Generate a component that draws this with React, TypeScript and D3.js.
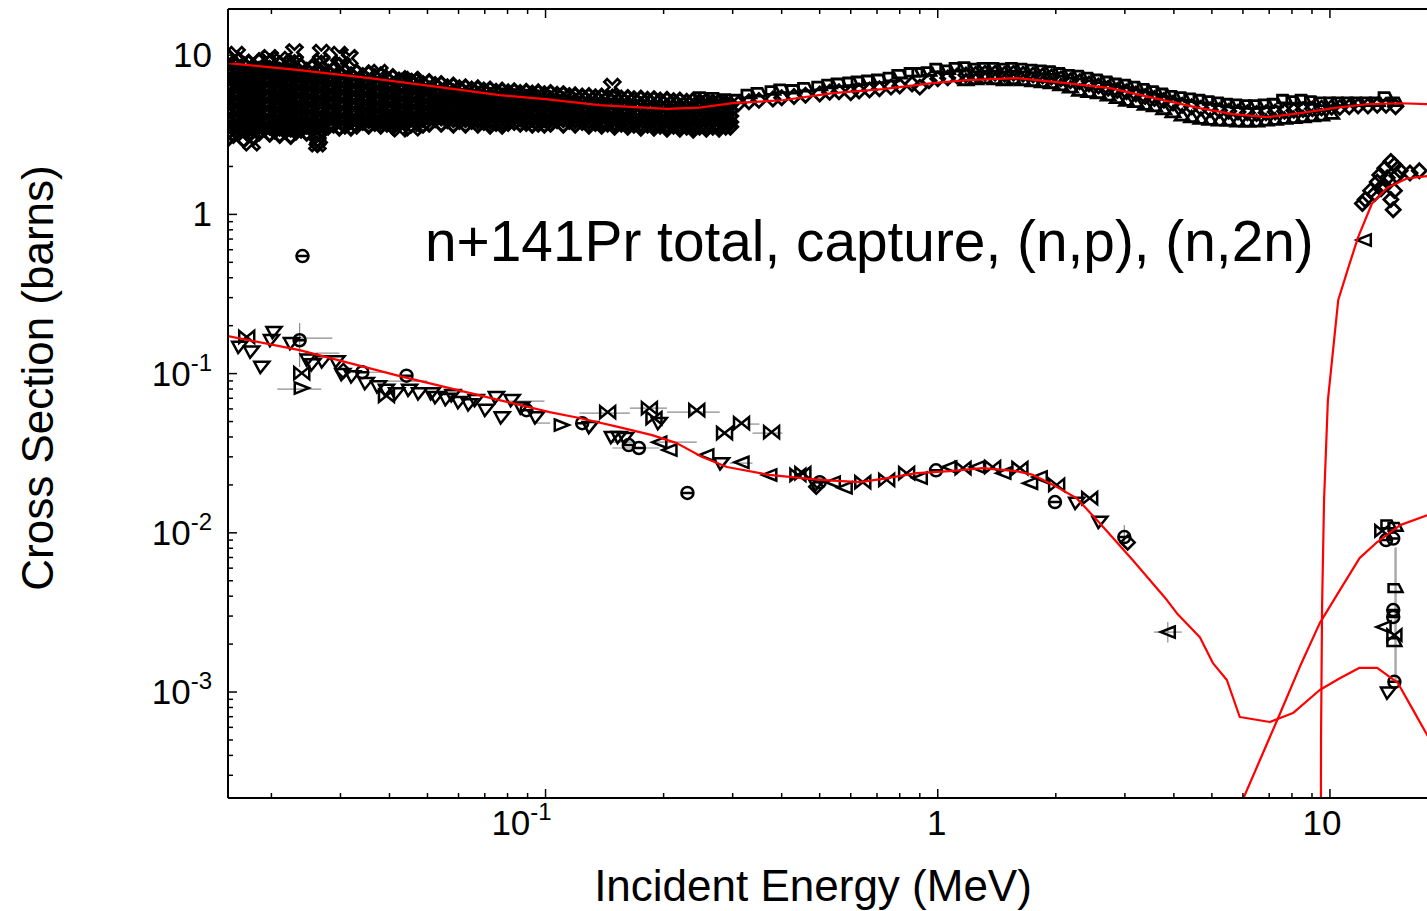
import React, { useEffect, useRef } from "react";
import * as d3 from "d3";

const WIDTH = 1427;
const HEIGHT = 911;
const FONT = "'Liberation Sans', Arial, Helvetica, sans-serif";

// axis ticks
const xMajorTicks = [0.1, 1, 10];
const xTickLabels = [["10", "-1"], ["1", ""], ["10", ""]];
const yMajorTicks = [10, 1, 0.1, 0.01, 0.001];
const yTickLabels = [["10", ""], ["1", ""], ["10", "-1"], ["10", "-2"], ["10", "-3"]];

// evaluated curves (MeV, barns)
const totalCurveE = [0.0155, 0.0236, 0.0356, 0.0537, 0.0763, 0.1, 0.137, 0.204, 0.247, 0.3, 0.402, 0.54, 0.724, 0.971, 1.186, 1.59, 2.13, 2.75, 3.47, 4.66, 5.66, 6.91, 8.38, 10.2, 12.4, 15.1, 17.7, 20];
const totalCurveXS = [8.91, 8.05, 7.17, 6.3, 5.61, 5.29, 4.85, 4.6, 4.68, 5.0, 5.21, 5.77, 6.12, 6.67, 6.97, 7.17, 6.67, 6.21, 5.45, 4.65, 4.26, 4.08, 4.32, 4.65, 4.92, 4.99, 4.92, 4.9];

const captureCurveE = [0.0155, 0.0236, 0.0425, 0.0763, 0.1024, 0.122, 0.154, 0.187, 0.216, 0.251, 0.29, 0.372, 0.5, 0.633, 0.724, 0.884, 1.073, 1.3, 1.59, 1.75, 1.97, 2.26, 2.59, 3.14, 3.84, 4.07, 4.66, 5.03, 5.46, 5.89, 7.03, 8.05, 9.42, 10.6, 11.9, 13.2, 14.9, 16.3, 17.7, 20];
const captureCurveXS = [0.172, 0.1405, 0.0964, 0.0682, 0.0573, 0.0526, 0.0461, 0.0411, 0.0366, 0.0299, 0.0259, 0.0231, 0.0215, 0.0208, 0.0218, 0.0237, 0.0244, 0.0255, 0.0244, 0.0231, 0.02, 0.0165, 0.0115, 0.00674, 0.00378, 0.00313, 0.00221, 0.00152, 0.00119, 0.000697, 0.000648, 0.000738, 0.00103, 0.00122, 0.00142, 0.00142, 0.00114, 0.00077, 0.000537, 0.00033];

const npCurveE = [5.83, 6.63, 7.47, 8.38, 9.42, 10.6, 11.9, 13.2, 15.1, 17.7, 20];
const npCurveXS = [0.00018, 0.000374, 0.000738, 0.00144, 0.00271, 0.00437, 0.00694, 0.00875, 0.01118, 0.0129, 0.0135];

const n2nCurveE = [9.47, 9.49, 9.55, 9.66, 9.88, 10.5, 11.1, 11.8, 12.8, 14.0, 15.7, 17.7, 20];
const n2nCurveXS = [0.00001, 0.0005, 0.0035, 0.016, 0.068, 0.29, 0.45, 0.72, 1.17, 1.47, 1.68, 1.74, 1.75];

// measured total cross section, dense region: [E, xs1, xs2, ...]
const totalLowRows = [
  [0.0156, 9.6, 8.4, 7.5, 6.7, 6.0, 5.3, 4.7, 4.2, 3.75, 3.35, 3.05],
  [0.016, 8.9, 7.9, 7.0, 6.3, 5.6, 5.0, 4.45, 3.95, 3.5, 3.15],
  [0.0165, 9.3, 8.2, 7.3, 6.5, 5.8, 5.15, 4.6, 4.1, 3.65, 3.25],
  [0.017, 8.7, 7.7, 6.9, 6.1, 5.45, 4.85, 4.35, 3.85, 3.45, 2.95],
  [0.0175, 9.0, 8.0, 7.2, 6.4, 5.7, 5.1, 4.55, 4.05, 3.6, 3.2],
  [0.018, 8.5, 7.6, 6.8, 6.0, 5.35, 4.8, 4.25, 3.8, 3.4, 3.05],
  [0.0186, 9.2, 8.1, 7.25, 6.45, 5.75, 5.1, 4.55, 4.05, 3.6, 3.25],
  [0.0192, 8.6, 7.7, 6.85, 6.1, 5.45, 4.85, 4.3, 3.85, 3.45],
  [0.0198, 9.0, 7.95, 7.1, 6.3, 5.6, 5.0, 4.45, 3.95, 3.55, 3.2],
  [0.0204, 8.4, 7.5, 6.7, 5.95, 5.3, 4.75, 4.2, 3.75, 3.4],
  [0.021, 8.8, 7.85, 7.0, 6.2, 5.5, 4.9, 4.35, 3.9, 3.5, 3.15],
  [0.0217, 8.3, 7.4, 6.6, 5.85, 5.2, 4.65, 4.15, 3.7, 3.35],
  [0.0224, 8.7, 7.7, 6.9, 6.1, 5.45, 4.85, 4.3, 3.85, 3.45, 3.1],
  [0.0231, 8.2, 7.3, 6.5, 5.8, 5.15, 4.6, 4.1, 3.65, 3.3],
  [0.0238, 8.5, 7.6, 6.75, 6.0, 5.35, 4.75, 4.25, 3.8, 3.4],
  [0.0246, 8.0, 7.15, 6.4, 5.7, 5.1, 4.55, 4.05, 3.6, 3.25],
  [0.0254, 8.4, 7.45, 6.65, 5.9, 5.25, 4.7, 4.2, 3.75, 3.4],
  [0.0262, 7.9, 7.05, 6.3, 5.6, 5.0, 4.5, 4.0, 3.6, 3.2, 2.95, 2.75],
  [0.027, 8.2, 7.3, 6.5, 5.8, 5.15, 4.6, 4.1, 3.7, 3.35],
  [0.0279, 7.8, 6.95, 6.2, 5.55, 4.95, 4.4, 3.95, 3.55],
  [0.0288, 8.1, 7.2, 6.4, 5.7, 5.1, 4.55, 4.05, 3.65],
  [0.0298, 7.6, 6.8, 6.1, 5.45, 4.85, 4.35, 3.9, 3.5],
  [0.0308, 7.9, 7.0, 6.25, 5.6, 5.0, 4.45, 4.0, 3.6],
  [0.0319, 7.5, 6.7, 6.0, 5.35, 4.8, 4.3, 3.85, 3.5],
  [0.033, 7.8, 6.9, 6.15, 5.5, 4.9, 4.4, 3.95, 3.6],
  [0.0342, 7.4, 6.6, 5.9, 5.25, 4.7, 4.2, 3.8],
  [0.0354, 7.7, 6.85, 6.1, 5.45, 4.85, 4.35, 3.9, 3.6],
  [0.0367, 7.3, 6.5, 5.8, 5.2, 4.65, 4.15, 3.75],
  [0.038, 7.5, 6.7, 6.0, 5.35, 4.8, 4.3, 3.85, 3.6],
  [0.0394, 7.1, 6.35, 5.7, 5.1, 4.55, 4.1, 3.7],
  [0.0408, 7.3, 6.5, 5.85, 5.25, 4.7, 4.2, 3.8, 3.55],
  [0.0423, 6.95, 6.2, 5.55, 5.0, 4.5, 4.05, 3.7],
  [0.0438, 7.1, 6.35, 5.7, 5.1, 4.6, 4.15, 3.8],
  [0.0454, 6.8, 6.1, 5.5, 4.95, 4.45, 4.0, 3.65],
  [0.047, 6.95, 6.25, 5.6, 5.05, 4.55, 4.1, 3.75],
  [0.0487, 6.6, 5.95, 5.4, 4.85, 4.4, 3.95, 3.65],
  [0.0505, 6.8, 6.1, 5.5, 4.95, 4.5, 4.05, 3.7],
  [0.0523, 6.5, 5.85, 5.3, 4.8, 4.35, 3.95],
  [0.0542, 6.6, 5.95, 5.4, 4.9, 4.45, 4.05, 3.7],
  [0.0562, 6.3, 5.7, 5.2, 4.7, 4.3, 3.9],
  [0.0582, 6.45, 5.85, 5.3, 4.8, 4.35, 3.95, 3.65],
  [0.0603, 6.2, 5.6, 5.1, 4.65, 4.25, 3.85],
  [0.0625, 6.3, 5.7, 5.2, 4.75, 4.3, 3.95, 3.65],
  [0.0648, 6.1, 5.55, 5.05, 4.6, 4.2, 3.85],
  [0.0672, 6.2, 5.65, 5.15, 4.7, 4.3, 3.9, 3.65],
  [0.0696, 6.0, 5.45, 5.0, 4.55, 4.15, 3.8],
  [0.0722, 6.1, 5.55, 5.05, 4.6, 4.2, 3.85, 3.6],
  [0.0748, 5.9, 5.4, 4.95, 4.5, 4.1, 3.75],
  [0.0775, 6.0, 5.5, 5.0, 4.55, 4.15, 3.8, 3.6],
  [0.0803, 5.85, 5.35, 4.9, 4.45, 4.05, 3.75],
  [0.0832, 5.95, 5.45, 4.95, 4.5, 4.1, 3.8],
  [0.0862, 5.8, 5.3, 4.85, 4.4, 4.0, 3.7],
  [0.0893, 5.9, 5.4, 4.9, 4.45, 4.05, 3.75],
  [0.0925, 5.75, 5.25, 4.8, 4.35, 3.95, 3.65],
  [0.0958, 5.85, 5.35, 4.85, 4.4, 4.0, 3.7],
  [0.0993, 5.7, 5.2, 4.75, 4.3, 3.95, 3.65],
  [0.103, 5.8, 5.3, 4.8, 4.35, 3.95, 3.7],
  [0.107, 5.65, 5.15, 4.7, 4.25, 3.9],
  [0.111, 5.7, 5.2, 4.75, 4.3, 3.95, 3.65],
  [0.115, 5.55, 5.05, 4.6, 4.2, 3.85],
  [0.119, 5.6, 5.1, 4.65, 4.25, 3.9, 3.65],
  [0.124, 5.5, 5.0, 4.55, 4.15, 3.8],
  [0.129, 5.55, 5.05, 4.6, 4.2, 3.85, 3.6],
  [0.134, 5.45, 4.95, 4.5, 4.1, 3.75],
  [0.139, 5.5, 5.0, 4.55, 4.15, 3.8, 3.6],
  [0.144, 5.4, 4.9, 4.45, 4.05, 3.7],
  [0.15, 5.45, 4.95, 4.5, 4.1, 3.75, 3.55],
  [0.156, 5.35, 4.85, 4.4, 4.0, 3.7],
  [0.162, 5.4, 4.9, 4.45, 4.05, 3.75, 3.55],
  [0.168, 5.3, 4.8, 4.35, 3.95, 3.65],
  [0.175, 5.35, 4.85, 4.4, 4.0, 3.7, 3.5],
  [0.182, 5.25, 4.75, 4.3, 3.95, 3.65],
  [0.189, 5.3, 4.8, 4.35, 4.0, 3.7, 3.5],
  [0.196, 5.2, 4.7, 4.3, 3.9, 3.6],
  [0.204, 5.25, 4.75, 4.35, 3.95, 3.65, 3.45],
  [0.212, 5.15, 4.7, 4.25, 3.9, 3.6],
  [0.22, 5.2, 4.75, 4.3, 3.95, 3.65, 3.45],
  [0.229, 5.1, 4.65, 4.25, 3.85, 3.55],
  [0.238, 5.2, 4.7, 4.3, 3.9, 3.6, 3.4],
  [0.247, 5.1, 4.65, 4.25, 3.85, 3.55],
  [0.257, 5.15, 4.7, 4.3, 3.9, 3.6, 3.45],
  [0.267, 5.05, 4.6, 4.2, 3.85, 3.55],
  [0.277, 5.1, 4.65, 4.25, 3.9, 3.6, 3.45],
  [0.288, 5.0, 4.6, 4.2, 3.85, 3.55],
  [0.296, 4.9, 4.5, 4.15, 3.8, 3.55],
];

// measured total cross section above 0.25 MeV: [E, xs1, xs2, ...]
const totalHighRows = [
  [0.25, 5.5, 4.9], [0.27, 5.45, 4.8], [0.29, 5.35, 4.85], [0.31, 5.3, 4.95], [0.33, 5.7, 5.1],
  [0.35, 5.85, 5.2], [0.38, 6.0, 5.3], [0.4, 6.15, 5.4], [0.43, 6.1, 5.5], [0.46, 6.3, 5.6],
  [0.5, 6.4, 5.7], [0.53, 6.6, 5.85], [0.56, 6.7, 5.9], [0.6, 6.8, 5.8], [0.63, 6.9, 5.95],
  [0.67, 7.0, 6.05], [0.71, 7.1, 6.15], [0.76, 7.3, 6.3], [0.8, 7.6, 6.4], [0.86, 7.8, 6.6],
  [0.9, 7.8, 6.3], [0.95, 7.9, 6.9], [1.0, 8.3, 7.1], [1.06, 8.1, 7.2], [1.12, 8.4, 7.4],
  [1.18, 8.5, 7.5, 7.0], [1.25, 8.3, 7.6, 7.1], [1.32, 8.4, 7.7, 7.2], [1.4, 8.4, 7.7, 7.1],
  [1.48, 8.3, 7.6, 7.0], [1.56, 8.4, 7.7, 7.1], [1.65, 8.3, 7.6, 7.0], [1.75, 8.2, 7.5, 6.9],
  [1.85, 8.1, 7.4, 6.8], [1.95, 8.0, 7.3, 6.7], [2.06, 7.8, 7.1, 6.5], [2.18, 7.6, 6.9, 6.3],
  [2.3, 7.5, 6.8, 6.0], [2.43, 7.3, 6.6, 5.9], [2.57, 7.1, 6.4, 5.8], [2.72, 6.9, 6.2, 5.6],
  [2.87, 6.7, 6.0, 5.4], [3.03, 6.6, 5.9, 5.2], [3.2, 6.4, 5.7, 5.1], [3.38, 6.2, 5.5, 4.9],
  [3.57, 6.0, 5.35, 4.8], [3.77, 5.8, 5.2, 4.6], [3.98, 5.6, 5.0, 4.4], [4.2, 5.5, 4.85, 4.2],
  [4.44, 5.4, 4.75, 4.1], [4.69, 5.3, 4.65, 4.0], [4.95, 5.2, 4.55, 3.95], [5.23, 5.1, 4.5, 3.9],
  [5.52, 5.0, 4.45, 3.9], [5.83, 4.95, 4.4, 3.85], [6.16, 4.9, 4.35, 3.85], [6.5, 4.9, 4.3, 3.85],
  [6.87, 4.95, 4.35, 3.9], [7.25, 5.0, 4.4, 3.95], [7.66, 5.3, 4.45, 4.0], [8.09, 5.2, 4.5, 4.05],
  [8.54, 5.3, 4.55, 4.1], [9.02, 5.2, 4.6, 4.15], [9.52, 5.1, 4.65, 4.2], [10.1, 5.1, 4.7, 4.3],
  [10.6, 5.1, 4.7], [11.2, 5.1, 4.75], [11.8, 5.1, 4.8], [12.5, 5.1, 4.8], [13.2, 5.1, 4.85],
  [13.9, 5.5, 4.85], [14.7, 5.1, 4.75],
];

const totalCrosses = [
  [0.0163, 10.0], [0.0198, 9.57], [0.021, 9.3], [0.0229, 10.4], [0.0229, 9.03], [0.0268, 10.3],
  [0.0268, 9.03], [0.0298, 10.0], [0.0316, 9.57], [0.0303, 8.62], [0.0377, 7.71], [0.0442, 6.77],
  [0.0458, 6.97], [0.0178, 2.84], [0.0159, 3.29], [0.021, 3.38], [0.0225, 3.48], [0.0262, 2.8],
  [0.0264, 3.05], [0.0425, 3.48], [0.0458, 3.53], [0.148, 6.3], [0.291, 4.0],
];

// measured capture, grouped by data set symbol
const captureTriDown = [
  [0.0166, 0.147], [0.0178, 0.137], [0.0189, 0.11], [0.02, 0.162], [0.0203, 0.182], [0.0225, 0.155],
  [0.0248, 0.122], [0.0255, 0.114], [0.0271, 0.119], [0.0294, 0.119], [0.0304, 0.099], [0.0322, 0.096],
  [0.0349, 0.087], [0.0375, 0.083], [0.0393, 0.079], [0.0417, 0.075], [0.045, 0.079], [0.0477, 0.075],
  [0.0514, 0.075], [0.0527, 0.071], [0.056, 0.069], [0.058, 0.073], [0.0603, 0.066], [0.064, 0.064],
  [0.0665, 0.068], [0.0706, 0.059], [0.0749, 0.071], [0.0775, 0.053], [0.0822, 0.068], [0.087, 0.061],
  [0.0948, 0.053], [0.13, 0.0461], [0.148, 0.0399], [0.154, 0.0399], [0.16, 0.0393], [0.195, 0.0488],
  [0.281, 0.0273], [0.491, 0.02], [2.26, 0.0154], [2.59, 0.0117], [14.1, 0.00099],
];
const captureCircle = [
  [0.024, 0.547], [0.0236, 0.162], [0.0341, 0.102], [0.0442, 0.097], [0.0894, 0.0589], [0.124, 0.0488],
  [0.163, 0.0356], [0.173, 0.0341], [0.23, 0.0178], [0.5, 0.0208], [0.99, 0.0247], [1.99, 0.0156],
  [2.99, 0.0094], [14.6, 0.00116],
];
const captureBowtie = [
  [0.0173, 0.17], [0.0239, 0.1007], [0.0393, 0.0725], [0.144, 0.0573], [0.184, 0.0607], [0.189, 0.0526],
  [0.243, 0.0589], [0.286, 0.0423], [0.316, 0.0488], [0.377, 0.0429], [0.44, 0.0231], [0.453, 0.0237],
  [0.644, 0.0208], [0.741, 0.0215], [0.833, 0.0237], [1.16, 0.0255], [1.38, 0.0259], [1.62, 0.0255],
  [2.01, 0.02], [2.44, 0.0165],
];
const captureTriLeft = [
  [0.195, 0.0371], [0.207, 0.0331], [0.257, 0.0308], [0.316, 0.0277], [0.372, 0.0231], [0.54, 0.0208],
  [0.579, 0.0192], [0.9, 0.0221], [1.07, 0.0259], [1.26, 0.0259], [1.47, 0.0237], [1.72, 0.0205],
  [1.82, 0.0224], [3.86, 0.00238],
];
const captureTriRight = [[0.0239, 0.0811], [0.11, 0.0475]];
const captureDiamond = [[0.49, 0.0195], [3.05, 0.0087], [0.0305, 0.104]];

// error bars: [E, xs, Elow, Ehigh, xsLow, xsHigh]
const errorBars = [
  [0.0236, 0.167, 0.0213, 0.0286, 0.11, 0.208],
  [0.0239, 0.08, 0.0207, 0.0268, 0.08, 0.08],
  [0.0278, 0.1345, 0.0259, 0.0298, 0.1345, 0.1345],
  [0.0357, 0.102, 0.0322, 0.0395, 0.102, 0.102],
  [0.0442, 0.0897, 0.0395, 0.05, 0.0897, 0.0897],
  [0.056, 0.0765, 0.0515, 0.0614, 0.0765, 0.0765],
  [0.089, 0.0672, 0.0795, 0.0994, 0.0672, 0.0672],
  [0.0975, 0.0489, 0.093, 0.1027, 0.0489, 0.0489],
  [0.141, 0.0565, 0.122, 0.164, 0.0565, 0.0565],
  [0.184, 0.0607, 0.164, 0.204, 0.0607, 0.0607],
  [0.243, 0.0573, 0.204, 0.278, 0.0573, 0.0573],
  [0.16, 0.0371, 0.1456, 0.1768, 0.0371, 0.0371],
  [0.17, 0.0341, 0.148, 0.195, 0.0341, 0.0341],
  [0.207, 0.0371, 0.187, 0.243, 0.0371, 0.0371],
  [0.337, 0.0482, 0.326, 0.351, 0.0482, 0.0482],
  [0.377, 0.0423, 0.337, 0.402, 0.0423, 0.0423],
  [0.316, 0.0274, 0.295, 0.337, 0.0274, 0.0274],
  [3.86, 0.00238, 3.56, 4.19, 0.00205, 0.00275],
  [2.99, 0.0094, 2.99, 2.99, 0.008, 0.0112],
  [14.7, 0.004, 14.7, 14.7, 0.00119, 0.0081],
];

// (n,p) at 14 MeV
const npBowtie = [[13.6, 0.0103], [14.6, 0.00228]];
const npSquare = [[14.1, 0.0113], [14.7, 0.0109], [14.7, 0.0045], [14.6, 0.00206]];
const npCircle = [[13.9, 0.009], [14.5, 0.0092], [14.5, 0.00327], [14.5, 0.00296]];
const npTriLeft = [[13.7, 0.00256]];

// (n,2n)
const n2nDiamond = [
  [12.3, 1.24], [12.7, 1.41], [13.4, 1.77], [13.8, 1.95], [14.3, 2.15], [14.6, 2.04], [15.1, 1.88],
  [14.6, 1.41], [14.3, 1.24], [14.5, 1.07], [13.7, 1.53], [13.0, 1.35], [16.0, 1.82], [16.9, 1.88],
  [12.1, 1.17], [13.2, 1.6], [14.0, 1.7], [14.8, 1.75], [13.5, 1.45],
];
const n2nTriLeft = [[12.2, 0.69]];

function symbolPath(kind: string, s: number): string {
  switch (kind) {
    case "diamond":
      return `M0,${-s}L${s},0L0,${s}L${-s},0Z`;
    case "para":
      return `M${-s},${-0.55 * s}L${0.45 * s},${-0.55 * s}L${s},${0.55 * s}L${-s},${0.55 * s}Z`;
    case "triUp":
      return `M${-s},${0.7 * s}L0,${-0.8 * s}L${s},${0.7 * s}Z`;
    case "triDown":
      return `M${-s},${-0.7 * s}L${s},${-0.7 * s}L${-0.2 * s},${0.8 * s}Z`;
    case "triLeft":
      return `M${s},${-0.8 * s}L${-s},0L${s},${0.8 * s}Z`;
    case "triRight":
      return `M${-s},${-0.8 * s}L${s},0L${-s},${0.8 * s}Z`;
    case "bowtie":
      return `M${-s},${-0.8 * s}L${s},${0.8 * s}L${s},${-0.8 * s}L${-s},${0.8 * s}Z`;
    case "circle": {
      const r = 0.75 * s;
      return `M${-r},0A${r},${r} 0 1,0 ${r},0A${r},${r} 0 1,0 ${-r},0ZM${-r},0L${r},0`;
    }
    case "cross": {
      const a = 0.35 * s;
      const pts = [
        [-s, -s + a], [-s + a, -s], [0, -a], [s - a, -s], [s, -s + a], [a, 0],
        [s, s - a], [s - a, s], [0, a], [-s + a, s], [-s, s - a], [-a, 0],
      ];
      return "M" + pts.map((p) => p.join(",")).join("L") + "Z";
    }
    default:
      return "";
  }
}

export default function App() {
  const svgRef = useRef<SVGSVGElement | null>(null);

  useEffect(() => {
    const svg = d3.select(svgRef.current);
    svg.selectAll("*").remove();

    const left = 228;
    const top = 9;
    const bottom = 798;
    const right = 1448;

    const x = d3.scaleLog().domain([0.0155, 20]).range([left, right]);
    const y = d3.scaleLog().domain([2.16e-4, 19.5]).range([bottom, top]);

    svg
      .append("defs")
      .append("clipPath")
      .attr("id", "plot-clip")
      .append("rect")
      .attr("x", left)
      .attr("y", top)
      .attr("width", right - left)
      .attr("height", bottom - top);

    const plot = svg.append("g").attr("clip-path", "url(#plot-clip)");

    // error bars
    const eb = plot.append("g").attr("stroke", "#8c8c8c").attr("stroke-width", 1.2);
    errorBars.forEach((d) => {
      const [e, s, elo, ehi, slo, shi] = d;
      if (ehi > elo) {
        eb.append("line").attr("x1", x(elo)).attr("x2", x(ehi)).attr("y1", y(s)).attr("y2", y(s));
      }
      if (shi > slo) {
        eb.append("line")
          .attr("x1", x(e))
          .attr("x2", x(e))
          .attr("y1", y(slo))
          .attr("y2", y(shi))
          .attr("stroke-width", e > 10 ? 2.5 : 1.2)
          .attr("stroke", e > 10 ? "#aaaaaa" : "#8c8c8c");
      }
    });

    const drawPoints = (pts: number[][], kind: string, size = 7, width = 2.5) => {
      plot
        .append("g")
        .selectAll("path")
        .data(pts)
        .join("path")
        .attr("d", symbolPath(kind, size))
        .attr("transform", (d) => `translate(${x(d[0])},${y(d[1])})`)
        .attr("fill", "none")
        .attr("stroke", "#000")
        .attr("stroke-width", width)
        .attr("stroke-linejoin", "miter");
    };

    // total: dense rows
    const lowPts: number[][] = [];
    totalLowRows.forEach((row) => row.slice(1).forEach((v) => lowPts.push([row[0], v])));
    drawPoints(lowPts, "diamond", 7, 3.4);
    drawPoints(totalCrosses, "cross", 8, 2.6);

    const highKinds = ["para", "diamond", "triUp"];
    highKinds.forEach((kind, i) => {
      const pts = totalHighRows.filter((row) => row.length > i + 1).map((row) => [row[0], row[i + 1]]);
      drawPoints(pts, kind, 7, 2.8);
    });

    // capture
    drawPoints(captureTriDown, "triDown", 7.5);
    drawPoints(captureCircle, "circle", 8);
    drawPoints(captureBowtie, "bowtie", 7.5);
    drawPoints(captureTriLeft, "triLeft", 7);
    drawPoints(captureTriRight, "triRight", 7);
    drawPoints(captureDiamond, "diamond", 7);

    // (n,p)
    drawPoints(npBowtie, "bowtie", 7);
    drawPoints(npSquare, "para", 7);
    drawPoints(npCircle, "circle", 8);
    drawPoints(npTriLeft, "triLeft", 7);

    // (n,2n)
    drawPoints(n2nDiamond, "diamond", 7, 2.8);
    drawPoints(n2nTriLeft, "triLeft", 7);

    // evaluated curves
    const curves: [number[], number[]][] = [
      [totalCurveE, totalCurveXS],
      [captureCurveE, captureCurveXS],
      [npCurveE, npCurveXS],
      [n2nCurveE, n2nCurveXS],
    ];
    curves.forEach(([es, xs]) => {
      const pts = es.map((e, i) => [x(e), y(xs[i])] as [number, number]);
      plot
        .append("path")
        .attr("d", d3.line()(pts))
        .attr("fill", "none")
        .attr("stroke", "#ff0000")
        .attr("stroke-width", 2.2)
        .attr("stroke-linejoin", "round");
    });

    // axes frame
    const axes = svg.append("g").attr("stroke", "#000").attr("stroke-width", 2);
    axes.append("line").attr("x1", left).attr("x2", WIDTH + 5).attr("y1", bottom).attr("y2", bottom);
    axes.append("line").attr("x1", left).attr("x2", WIDTH + 5).attr("y1", top).attr("y2", top);
    axes.append("line").attr("x1", left).attr("x2", left).attr("y1", top).attr("y2", bottom);

    // x ticks (bottom and top, inward)
    const xMinor: number[] = [];
    for (let p = -2; p <= 1; p++) {
      for (let m = 2; m <= 9; m++) {
        const v = m * Math.pow(10, p);
        if (v > 0.0155 && v < 20) xMinor.push(v);
      }
    }
    const tk = svg.append("g").attr("stroke", "#000").attr("stroke-width", 1.5);
    xMinor.forEach((v) => {
      tk.append("line").attr("x1", x(v)).attr("x2", x(v)).attr("y1", bottom).attr("y2", bottom - 5);
      tk.append("line").attr("x1", x(v)).attr("x2", x(v)).attr("y1", top).attr("y2", top + 5);
    });
    xMajorTicks.forEach((v) => {
      tk.append("line").attr("x1", x(v)).attr("x2", x(v)).attr("y1", bottom).attr("y2", bottom - 9);
      tk.append("line").attr("x1", x(v)).attr("x2", x(v)).attr("y1", top).attr("y2", top + 9);
    });

    const yMinor: number[] = [];
    for (let p = -4; p <= 1; p++) {
      for (let m = 2; m <= 9; m++) {
        const v = m * Math.pow(10, p);
        if (v > 2.16e-4 && v < 19.5) yMinor.push(v);
      }
    }
    yMinor.forEach((v) => {
      tk.append("line").attr("x1", left).attr("x2", left + 5).attr("y1", y(v)).attr("y2", y(v));
    });
    yMajorTicks.forEach((v) => {
      tk.append("line").attr("x1", left).attr("x2", left + 9).attr("y1", y(v)).attr("y2", y(v));
    });

    // tick labels
    const labels = svg.append("g").attr("font-family", FONT).attr("fill", "#000");
    const xLabelShift = [-24, -1, -8];
    xMajorTicks.forEach((v, i) => {
      const [base, sup] = xTickLabels[i];
      const t = labels
        .append("text")
        .attr("x", x(v) + xLabelShift[i])
        .attr("y", 835)
        .attr("text-anchor", "middle")
        .attr("font-size", 35);
      t.append("tspan").text(base);
      if (sup) t.append("tspan").attr("dy", -15).attr("font-size", 24).text(sup);
    });
    yMajorTicks.forEach((v, i) => {
      const [base, sup] = yTickLabels[i];
      const t = labels
        .append("text")
        .attr("x", 212)
        .attr("y", y(v) + 12)
        .attr("text-anchor", "end")
        .attr("font-size", 35);
      t.append("tspan").text(base);
      if (sup) t.append("tspan").attr("dy", -15).attr("font-size", 24).text(sup);
    });

    // axis titles
    labels
      .append("text")
      .attr("x", 813)
      .attr("y", 901)
      .attr("text-anchor", "middle")
      .attr("font-size", 44)
      .text("Incident Energy (MeV)");
    labels
      .append("text")
      .attr("transform", "translate(53,378) rotate(-90)")
      .attr("text-anchor", "middle")
      .attr("font-size", 44)
      .text("Cross Section (barns)");

    // title inside plot
    labels
      .append("text")
      .attr("x", 425)
      .attr("y", 261)
      .attr("font-size", 56.8)
      .text("n+141Pr total, capture, (n,p), (n,2n)");
  }, []);

  return (
    <svg
      ref={svgRef}
      width={WIDTH}
      height={HEIGHT}
      style={{ position: "absolute", left: 0, top: 0, background: "#fff", display: "block" }}
    />
  );
}
